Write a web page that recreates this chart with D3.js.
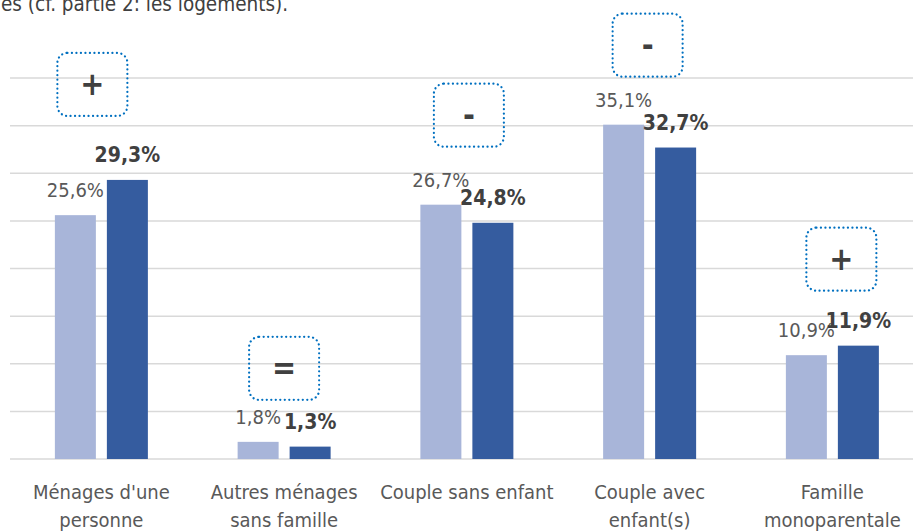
<!DOCTYPE html>
<html>
<head>
<meta charset="utf-8">
<script src="https://cdn.jsdelivr.net/npm/d3@7"></script>
<style>
  html, body { margin: 0; padding: 0; background: #fff; overflow: hidden; }
  text { font-family: "Liberation Sans Narrow", "DejaVu Sans Condensed", "Roboto", sans-serif; }
</style>
</head>
<body>
<svg id="chart" width="913" height="531"></svg>
<script>
// categories (two lines where the label wraps)
const categories = [
  ["Ménages d'une", "personne"],
  ["Autres ménages", "sans famille"],
  ["Couple sans enfant"],
  ["Couple avec", "enfant(s)"],
  ["Famille", "monoparentale"]
];
const before = [25.6, 1.8, 26.7, 35.1, 10.9];
const after = [29.3, 1.3, 24.8, 32.7, 11.9];
const trends = ["+", "=", "-", "-", "+"];
const gridTicks = [0, 5, 10, 15, 20, 25, 30, 35, 40];
const topNote = "es (cf. partie 2: les logements).";

const fmt = v => d3.format(".1f")(v).replace(".", ",") + "%";

const svg = d3.select("#chart");
const margin = { top: 78, left: 10, bottom: 72 };
const height = 531 - margin.top - margin.bottom;
const g = svg.append("g").attr("transform", `translate(${margin.left},${margin.top})`);

const x0 = d3.scaleBand().domain(d3.range(categories.length)).range([0, 913.75]).padding(0);
const x1 = d3.scaleBand().domain([0, 1]).range([0, 93]).paddingInner(0.2115).paddingOuter(0);
const groupOff = (x0.bandwidth() - 93) / 2;
const y = d3.scaleLinear().domain([0, 40]).range([height, 0]);

// gridlines
g.selectAll(".grid")
  .data(gridTicks)
  .join("line")
  .attr("x1", 0).attr("x2", 920)
  .attr("y1", d => y(d)).attr("y2", d => y(d))
  .attr("stroke", "#d9d9d9")
  .attr("stroke-width", 1.5);

const rows = categories.map((c, i) => ({ i, vals: [before[i], after[i]] }));
const groups = g.selectAll(".grp")
  .data(rows)
  .join("g")
  .attr("transform", d => `translate(${x0(d.i) + groupOff},0)`);

const colors = ["#a8b5d9", "#355c9f"];
groups.selectAll("rect")
  .data(d => d.vals)
  .join("rect")
  .attr("x", (d, j) => x1(j))
  .attr("y", d => y(d))
  .attr("width", x1.bandwidth())
  .attr("height", d => height - y(d))
  .attr("fill", (d, j) => colors[j]);

groups.selectAll(".lbl")
  .data(d => d.vals)
  .join("text")
  .attr("x", (d, j) => x1(j) + x1.bandwidth() / 2)
  .attr("y", d => y(d) - 18)
  .attr("text-anchor", "middle")
  .attr("font-size", (d, j) => j ? "21px" : "20px")
  .attr("font-weight", (d, j) => j ? "bold" : "normal")
  .attr("fill", (d, j) => j ? "#404040" : "#595959")
  .text(d => fmt(d));

// category labels
g.selectAll(".cat")
  .data(categories)
  .join("text")
  .attr("x", (d, i) => x0(i) + x0.bandwidth() / 2)
  .attr("y", height + 40)
  .attr("text-anchor", "middle")
  .attr("font-size", "20px")
  .attr("fill", "#595959")
  .selectAll("tspan")
  .data(d => d)
  .join("tspan")
  .attr("x", function () { return d3.select(this.parentNode).attr("x"); })
  .attr("dy", (d, k) => k ? 28 : 0)
  .text(d => d);

// trend boxes: shift from group centre, lift above the taller bar
const boxDx = [-9, 0, 2, -2, 9];
const boxLift = [64, 42, 58, 48, 55];
const boxes = g.selectAll(".box")
  .data(trends)
  .join("g")
  .attr("transform", (d, i) => {
    const cx = x0(i) + x0.bandwidth() / 2 + boxDx[i];
    const bottom = y(Math.max(before[i], after[i])) - boxLift[i];
    return `translate(${cx},${bottom - 31.5})`;
  });
boxes.append("rect")
  .attr("x", -35).attr("y", -31.5)
  .attr("width", 70).attr("height", 63)
  .attr("rx", 10)
  .attr("fill", "none")
  .attr("stroke", "#0070c0")
  .attr("stroke-width", 2.2)
  .attr("stroke-linecap", "round")
  .attr("stroke-dasharray", "0.1 4.4");
boxes.append("text")
  .attr("text-anchor", "middle")
  .attr("y", 11)
  .attr("font-size", "32px")
  .attr("font-weight", "bold")
  .attr("fill", "#404040")
  .text(d => d);

svg.append("text")
  .attr("x", 1)
  .attr("y", 11)
  .attr("font-size", "20.5px")
  .attr("fill", "#404040")
  .text(topNote);
</script>
</body>
</html>
